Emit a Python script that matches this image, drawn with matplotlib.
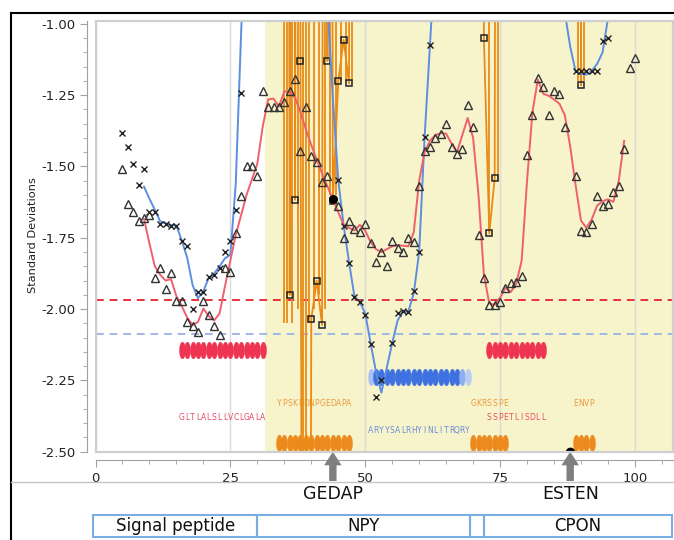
import numpy as np
import matplotlib.pyplot as plt
import matplotlib.transforms as mtransforms
from matplotlib.path import Path
from matplotlib.patches import Rectangle
from matplotlib.lines import Line2D
from matplotlib.ticker import MultipleLocator, FormatStrFormatter

plt.rcParams['axes.unicode_minus'] = False
plt.rcParams['font.family'] = ['DejaVu Sans']

# open triangles (residue -> standard deviations)
tri_x = list(range(5, 44)) + list(range(45, 88)) + list(range(89, 101))
tri_y = [
    -1.51, -1.63, -1.66, -1.69, -1.68, -1.67, -1.89, -1.855, -1.93, -1.875,
    -1.97, -1.97, -2.045, -2.06, -2.08, -1.97, -2.02, -2.06, -2.09, -1.855,
    -1.87, -1.735, -1.605, -1.50, -1.50, -1.535, -1.235, -1.29, -1.29, -1.29,
    -1.275, -1.235, -1.195, -1.445, -1.29, -1.465, -1.485, -1.555, -1.535,
    -1.64, -1.75, -1.69, -1.72, -1.73, -1.70, -1.77, -1.835, -1.80, -1.85,
    -1.76, -1.785, -1.80, -1.75, -1.765, -1.57, -1.445, -1.43, -1.40, -1.385,
    -1.35, -1.43, -1.455, -1.44, -1.285, -1.36, -1.74, -1.89, -1.985, -1.985,
    -1.975, -1.925, -1.91, -1.905, -1.885, -1.46, -1.32, -1.19, -1.22, -1.32,
    -1.235, -1.245, -1.36,
    -1.535, -1.725, -1.73, -1.70, -1.605, -1.64, -1.63, -1.59, -1.57, -1.44, -1.155, -1.12,
]

# red smoothed line through the triangles
red_x = list(range(9, 99))
red_y = [
    -1.685, -1.77, -1.85, -1.88, -1.90, -1.895, -1.955, -1.99, -2.03, -2.056,
    -2.045, -1.998, -2.025, -2.04, -2.015, -1.92, -1.83, -1.74, -1.67, -1.60,
    -1.545, -1.49, -1.36, -1.265, -1.262, -1.29, -1.237, -1.238, -1.26, -1.31,
    -1.37, -1.425, -1.475, -1.525, -1.57, -1.615, -1.66, -1.705, -1.715, -1.724,
    -1.705, -1.725, -1.765, -1.79, -1.80, -1.79, -1.78, -1.776, -1.778, -1.78,
    -1.73, -1.55, -1.45, -1.41, -1.39, -1.383, -1.385, -1.42, -1.45, -1.39,
    -1.33, -1.40, -1.60, -1.88, -1.98, -1.985, -1.96, -1.925, -1.94, -1.91,
    -1.83, -1.55, -1.31, -1.195, -1.245, -1.252, -1.265, -1.28, -1.32, -1.43,
    -1.565, -1.69, -1.715, -1.685, -1.637, -1.622, -1.615, -1.624, -1.55, -1.41,
]

# x markers
cross_x = list(range(5, 28)) + list(range(45, 54)) + list(range(55, 63)) + list(range(89, 96))
cross_y = [
    -1.383, -1.43, -1.49, -1.564, -1.51, -1.66, -1.66, -1.70, -1.70, -1.707,
    -1.71, -1.763, -1.78, -2.00, -1.94, -1.94, -1.888, -1.88, -1.857, -1.80,
    -1.763, -1.652, -1.244,
    -1.547, -1.707, -1.838, -1.958, -1.976, -2.02, -2.122, -2.308, -2.25,
    -2.118, -2.014, -2.007, -2.01, -1.937, -1.80, -1.396, -1.073,
    -1.167, -1.167, -1.167, -1.167, -1.167, -1.06, -1.05,
]

# blue smoothed line, three pieces
blue1_x = list(range(9, 29))
blue1_y = [-1.571, -1.613, -1.652, -1.693, -1.70, -1.705, -1.707, -1.76, -1.82, -1.916,
           -1.962, -1.937, -1.89, -1.875, -1.85, -1.822, -1.81, -1.56, -1.03, -0.5]
blue2_x = list(range(43, 64))
blue2_y = [-0.93, -1.26, -1.547, -1.707, -1.836, -1.955, -1.975, -2.015, -2.12, -2.22,
           -2.293, -2.205, -2.12, -2.04, -2.01, -2.008, -1.945, -1.80, -1.40, -1.075, -0.75]
blue3_x = list(range(86, 97))
blue3_y = [-0.8, -0.96, -1.08, -1.167, -1.175, -1.178, -1.165, -1.14, -1.10, -0.98, -0.8]

# orange squares (values far off scale show as near vertical lines)
orange_x = [35, 36, 37, np.nan, 36, 37, 38, np.nan, 37, 38, 39, np.nan,
            39, 40, 41, 42, 43, np.nan, 42, 43, 44, np.nan,
            43, 44, 45, 46, 47, 48, np.nan, 71, 72, 73, 74, 75, np.nan, 89, 90, 91]
orange_y = [9, -1.95, 9, np.nan, 9, -1.617, 9, np.nan, 9, -1.13, -9, np.nan,
            -9, -2.035, -1.90, -2.056, 9, np.nan, 9, -1.13, 9, np.nan,
            9, -1.62, -1.202, -1.056, -1.209, 9, np.nan, 9, -1.049, -1.735, -1.54, 9, np.nan, 9, -1.216, 9]
# other orange lines coming down from off scale
curtain_x = [35.0, 35.5, 36.5, 37.5, 38.5, 39.0, 39.5, 40.5, 41.5, 42.5, 43.5, 44.5,
             45.5, 46.5, 47.5, 73.0, 74.6, 89.5, 90.5]
curtain_lo = [-2.05, -2.05, -2.05, -2.0, -2.6, -2.6, -2.05, -2.0, -1.95, -2.0, -1.6, -1.6,
              -1.2, -1.2, -1.2, -1.73, -1.55, -1.2, -1.2]

# thresholds
red_cut = -1.969
blue_cut = -2.087

# peptides: sequence, first residue, colour group
pep_seq = ['GLTLALSLLVCLGALA', 'YPSKPDNPGEDAPA', 'ARYYSALRHYINLITRQRY', 'GKRSSPE', 'SSPETLISDLL', 'ENVP']
pep_start = [16, 34, 51, 70, 73, 89]
pep_group = ['red', 'orange', 'blue', 'orange', 'red', 'orange']

# selected residues
sel_x = [44, 88]
sel_name = ['GEDAP', 'ESTEN']

# protein regions
domain_names = ['Signal peptide', 'NPY', '', 'CPON']
domain_start = [-0.4, 30.0, 69.5, 72.0]
domain_end = [30.0, 69.5, 72.0, 106.8]

# colours
c_red = '#f0606c'
c_blue = '#5c8fe2'
c_orange = '#e98b16'
band_col = {'red': '#ef3452', 'blue': '#3f72e0', 'orange': '#ec8a1e'}
text_col = {'red': '#e84a66', 'blue': '#6a8cda', 'orange': '#eb9a3c'}
band_y = {'red': -2.145, 'blue': -2.237, 'orange': -2.468}
text_y = {'red': -2.38, 'blue': -2.425, 'orange': -2.33}

fig = plt.figure(figsize=(6.74, 5.4), dpi=100)
ax = fig.add_axes([95.5 / 674, 1 - 451.7 / 540, 577.2 / 674, 430.7 / 540])
ax.set_xlim(0, 107)
ax.set_ylim(-2.5, -0.99)

# yellow background for the mature peptide part
ax.axvspan(31.5, 107, color='#f7f4cc', zorder=0, lw=0)

# axes styling
for s in ['top', 'right']:
    ax.spines[s].set_visible(False)
for s in ['left', 'bottom']:
    ax.spines[s].set_position(('outward', 6))
    ax.spines[s].set_color('#a0a0a0')
ax.add_patch(Rectangle((0, 0), 1, 1, transform=ax.transAxes, fill=False,
                       ec='#cfcfcf', lw=1.6, zorder=6, clip_on=False))
ax.set_xticks([0, 25, 50, 75, 100])
ax.set_yticks([-2.5, -2.25, -2.0, -1.75, -1.5, -1.25, -1.0])
ax.xaxis.set_minor_locator(MultipleLocator(5))
ax.yaxis.set_minor_locator(MultipleLocator(0.05))
ax.yaxis.set_major_formatter(FormatStrFormatter('%.2f'))
ax.tick_params(which='major', length=5, color='#a0a0a0', labelsize=9.5, labelcolor='#222222')
ax.tick_params(which='minor', length=3, color='#a0a0a0')
ax.grid(axis='x', color='#dadada', lw=1, zorder=0.5)
ax.set_axisbelow(True)
ax.set_ylabel('Standard Deviations', fontsize=8.2, color='#222222')
ax.yaxis.set_label_coords(-0.1, 0.503)

# threshold lines
ax.axhline(red_cut, color='#e8303f', ls=(0, (4, 3)), lw=1.4, zorder=1)
ax.axhline(blue_cut, color='#9fb8e4', ls=(0, (4, 3)), lw=1.4, zorder=1)

# peptide bands made of ellipses and their letters
t = np.linspace(0, 2 * np.pi, 40)
ell = Path(np.column_stack([0.36 * np.cos(t), np.sin(t)]))
for seq, start, grp in zip(pep_seq, pep_start, pep_group):
    res = np.arange(start, start + len(seq))
    cols = [band_col[grp]] * len(seq)
    if grp == 'blue':
        cols[0] = '#a9c2f2'
        cols[-2] = '#8fb0ee'
        cols[-1] = '#b8cdf4'
    for r, c in zip(res, cols):
        ax.plot(r, band_y[grp], ls='none', marker=ell, ms=12, mfc=c, mec=c, mew=0.3, zorder=2)
    for r, ch in zip(res, seq):
        ax.text(r, text_y[grp], ch, fontsize=5.5, color=text_col[grp], ha='center', va='center', zorder=2)

# orange series
ax.vlines(curtain_x, curtain_lo, 0, colors=c_orange, lw=1.3, zorder=3)
ax.plot(orange_x, orange_y, color=c_orange, lw=1.3, marker='s', ms=4.5, mfc='none',
        mec='#222222', mew=1.1, zorder=3)

# blue series
for bx, by in [(blue1_x, blue1_y), (blue2_x, blue2_y), (blue3_x, blue3_y)]:
    ax.plot(bx, by, color=c_blue, lw=1.4, zorder=3)
ax.plot(cross_x, cross_y, ls='none', marker='x', ms=3.8, mec='#222222', mew=1.0, zorder=4)

# red series
ax.plot(red_x, red_y, color=c_red, lw=1.4, zorder=3)
ax.plot(tri_x, tri_y, ls='none', marker='^', ms=6, mfc='none', mec='#333333', mew=1.0, zorder=4)

# selected residues
ax.plot(sel_x[0], red_y[red_x.index(sel_x[0])], 'o', color='black', ms=5.5, zorder=5)
ax.plot(sel_x[1], -2.5, 'o', color='black', ms=6, zorder=5)

blend = mtransforms.blended_transform_factory(ax.transData, fig.transFigure)
for sx, name in zip(sel_x, sel_name):
    ax.annotate('', xy=(sx, -2.5), xycoords='data', xytext=(sx, 1 - 481 / 540), textcoords=blend,
                arrowprops=dict(arrowstyle='simple,head_length=0.7,head_width=0.9,tail_width=0.38',
                                fc='#7f7f7f', ec='none', shrinkA=0, shrinkB=0, mutation_scale=14),
                annotation_clip=False)
    fig.text(sx, 1 - 494 / 540, name, transform=blend, fontsize=12.5, ha='center', va='center', color='#111111')

# region boxes under the plot
for name, a, b in zip(domain_names, domain_start, domain_end):
    fig.add_artist(Rectangle((a, 1 - 537 / 540), b - a, 22 / 540, transform=blend, fill=False,
                             ec='#7aaee0', lw=1.5))
    fig.text((a + b) / 2, 1 - 526 / 540, name, transform=blend, fontsize=12, ha='center',
             va='center', color='#111111')

# outer frame and separator
fig.add_artist(Line2D([11 / 674, 11 / 674], [0, 1 - 13 / 540], color='black', lw=1.5))
fig.add_artist(Line2D([11 / 674, 1], [1 - 13 / 540, 1 - 13 / 540], color='black', lw=1.5))
fig.add_artist(Line2D([11 / 674, 1], [1 - 482 / 540, 1 - 482 / 540], color='#c4c4c4', lw=1))

fig.savefig('out.png', dpi=100)
